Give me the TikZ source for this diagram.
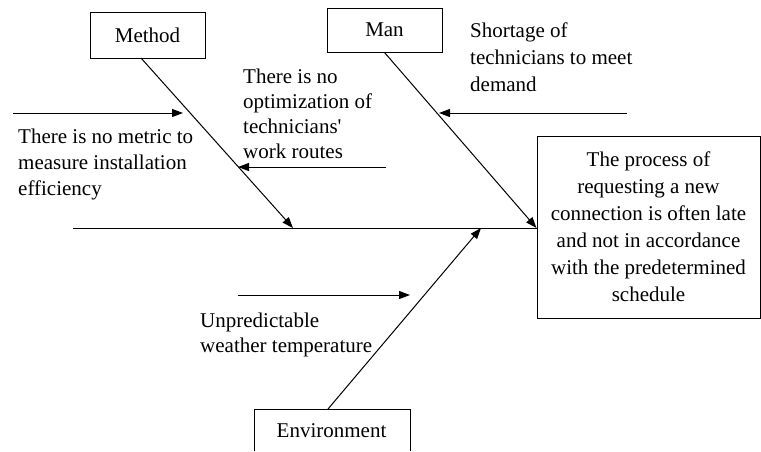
\documentclass[tikz,border=0pt]{standalone}
\usepackage{fontspec}
\setmainfont{Liberation Serif}
\usetikzlibrary{arrows.meta}
\begin{document}
\begin{tikzpicture}[x=1pt,y=-1pt,
  lbl/.style={font=\fontsize{21}{26}\selectfont, inner sep=0pt},
  txt/.style={lbl, align=left, anchor=base west},
  catbox/.style={draw, line width=1pt, minimum width=115pt, lbl},
  tip/.style={-{Triangle[length=11pt,width=8pt]}},
  bone/.style={line width=1pt, tip},
  cause/.style={line width=1pt, tip}]
% canvas
\fill[white] (0,0) rectangle (761,451);
\useasboundingbox (0,0) rectangle (761,451);

% categories
\node[catbox, minimum height=46pt] (method) at (147.5,35) {Method};
\node[catbox, minimum height=44pt] (man) at (384.5,30) {Man};
\node[lbl] (env) at (331.5,431) {Environment};
\draw[line width=1pt] (254,451) |- (410,409) -- (410,451);
\coordinate (envtop) at (328,409);

% effect
\node[draw, line width=1pt, minimum width=223pt, minimum height=182pt,
      lbl, align=center, font=\fontsize{21}{27}\selectfont] (effect) at (648.5,227)
  {The process of\\ requesting a new\\ connection is often late\\ and not in accordance\\ with the predetermined\\ schedule};

% spine
\coordinate (spinestart) at (73,228);
\draw[line width=1pt] (spinestart) -- (effect.west |- spinestart);

% main bones
\coordinate (mtail) at (141,58);
\coordinate (mhead) at (293,228);
\coordinate (ehead) at (481,228);
\draw[bone] (mtail) -- (mhead);
\draw[bone] (man.south) -- (effect.west |- spinestart);
\draw[bone] (envtop) -- (ehead);

% cause arrows
\coordinate (c1a) at (13,113);  \coordinate (c1b) at (183,113);
\coordinate (c2a) at (386,167); \coordinate (c2b) at (238,167);
\coordinate (c3a) at (627,113); \coordinate (c3b) at (439,113);
\coordinate (c4a) at (238,295); \coordinate (c4b) at (410,295);
\draw[cause] (c1a) -- (c1b);
\draw[cause] (c2a) -- (c2b);
\draw[cause] (c3a) -- (c3b);
\draw[cause] (c4a) -- (c4b);

% cause texts (placed at the baseline of their last line)
\node[txt] (t1) at (18,195) {There is no metric to\\ measure installation\\ efficiency};
\node[txt, font=\fontsize{21}{25}\selectfont] (t2) at (243,158) {There is no\\ optimization of\\ technicians\textquotesingle\\ work routes};
\node[txt, font=\fontsize{21}{27}\selectfont] (t3) at (470,91) {Shortage of\\ technicians to meet\\ demand};
\node[txt, font=\fontsize{21}{25}\selectfont] (t4) at (200,352) {Unpredictable\\ weather temperature};
\end{tikzpicture}
\end{document}
